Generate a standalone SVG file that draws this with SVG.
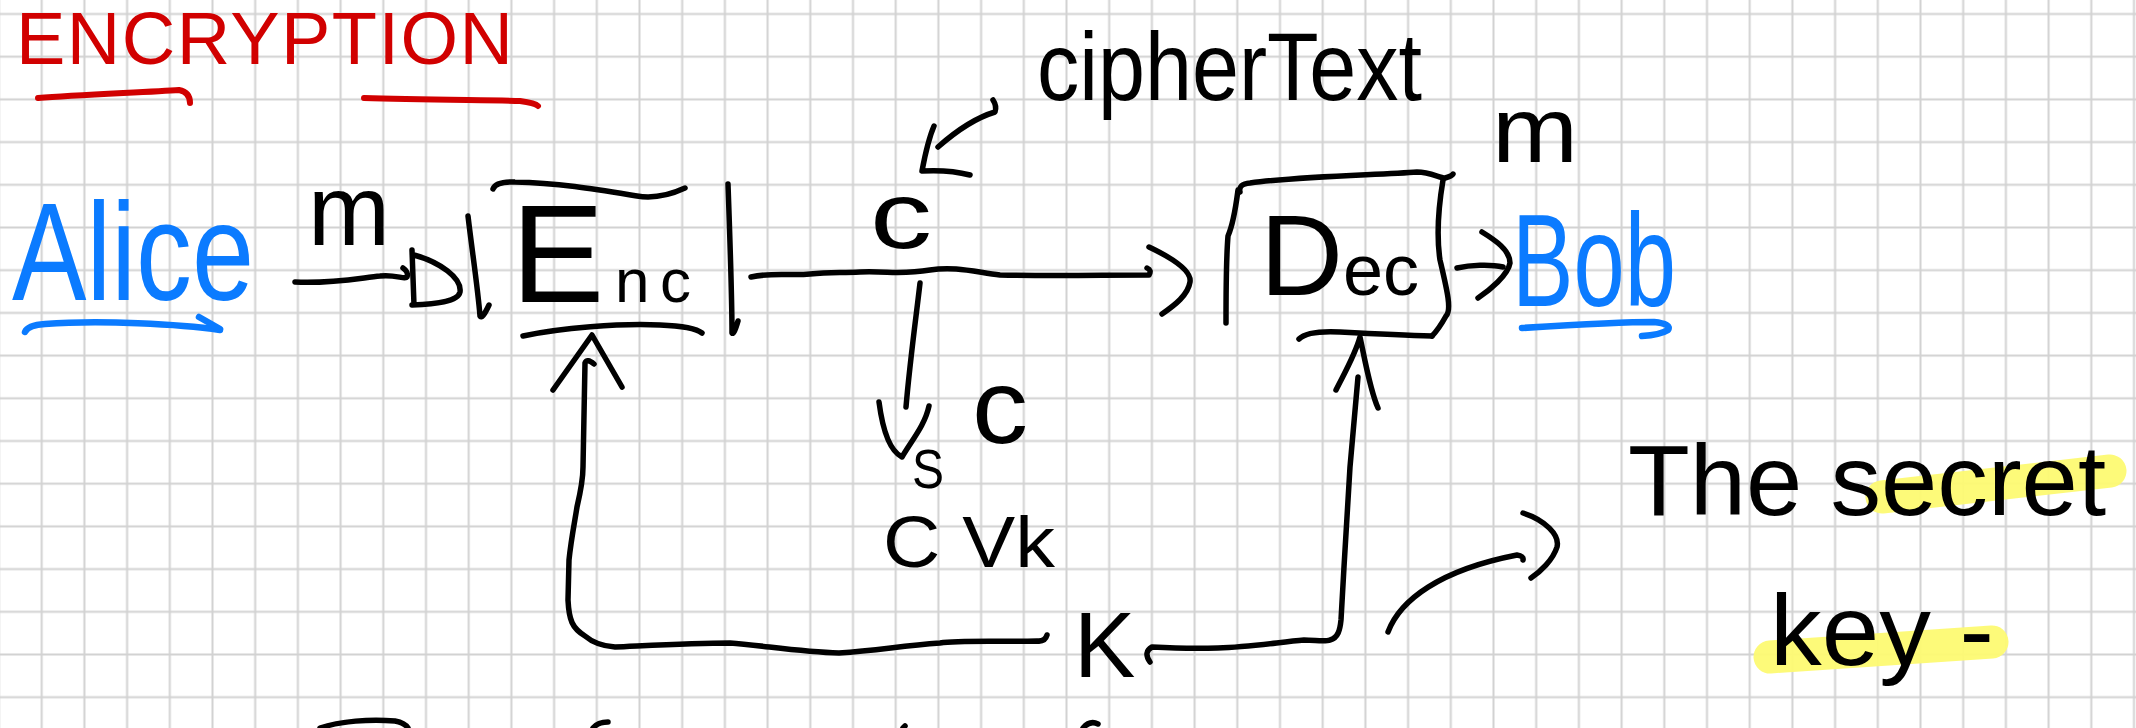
<svg xmlns="http://www.w3.org/2000/svg" width="2136" height="728" viewBox="0 0 2136 728">
<style>
.ink{fill:none;stroke:#000;stroke-width:5.5;stroke-linecap:round;stroke-linejoin:round}
.red{fill:none;stroke:#d10000;stroke-width:6;stroke-linecap:round;stroke-linejoin:round}
.blue{fill:none;stroke:#0b7bff;stroke-width:6.5;stroke-linecap:round;stroke-linejoin:round}
.hl{fill:none;stroke:#fdfa72;stroke-width:33;stroke-linecap:round;opacity:0.95}
text{font-family:"Liberation Sans",Arial,sans-serif;fill:#000}
.tr{fill:#d10000}
.tb{fill:#0b7bff}
</style>
<defs>
<pattern id="grid" patternUnits="userSpaceOnUse" x="20.35" y="-7.35" width="42.7" height="42.7">
<path d="M21.35 0V42.7M0 21.35H42.7" stroke="#d2d2d2" stroke-width="2" fill="none"/>
</pattern>
</defs>
<rect width="2136" height="728" fill="#fff"/>
<rect width="2136" height="728" fill="url(#grid)"/>

<g id="title">
<text class="tr" x="16" y="64" font-size="74" textLength="497" lengthAdjust="spacing">ENCRYPTION</text>
<path class="red" d="M38 98 C80 95 150 92 179 90 Q190 92 190 103"/>
<path class="red" d="M364 98 C420 100 500 100 520 101 Q535 103 538 106"/>
</g>

<g id="alice">
<text class="tb" x="12" y="300" font-size="140" textLength="242" lengthAdjust="spacingAndGlyphs">Alice</text>
<path class="blue" d="M25 332 Q28 325 45 324 C100 320 180 324 220 330"/>
<path class="blue" d="M199 317 L220 329"/>
</g>

<g id="enc">
<path class="ink" d="M493 189 Q496 181 515 182 C560 183 600 190 637 196 C655 199 672 194 685 188"/>
<path class="ink" d="M468 216 C472 250 478 290 480 316 Q482 320 489 305"/>
<path class="ink" d="M728 184 C730 240 732 300 732 333 Q734 335 738 321"/>
<path class="ink" d="M523 336 C560 328 620 323 660 325 C685 326 697 329 702 333"/>
<text x="511" y="302" textLength="180" lengthAdjust="spacing"><tspan font-size="140">E</tspan><tspan font-size="62">nc</tspan></text>
</g>

<g id="dec">
<path class="ink" d="M1238 190 C1236 205 1234 222 1228 236 C1226 260 1226 290 1226 323"/>
<path class="ink" d="M1240 192 Q1238 184 1250 183 C1300 176 1380 175 1417 172 C1430 172 1440 178 1445 178 Q1452 176 1453 174"/>
<path class="ink" d="M1443 180 C1438 210 1437 240 1440 260 C1447 290 1452 310 1446 316 C1441 325 1436 332 1432 336"/>
<path class="ink" d="M1432 336 C1400 335 1360 333 1340 332 C1320 331 1305 333 1299 339"/>
<text x="1260" y="295"><tspan font-size="115">D</tspan><tspan font-size="72">ec</tspan></text>
</g>

<g id="bob">
<text class="tb" x="1512" y="306" font-size="132" textLength="164" lengthAdjust="spacingAndGlyphs">Bob</text>
<path class="blue" d="M1522 328 C1570 325 1630 322 1654 322 Q1672 324 1668 330 Q1660 335 1642 336"/>
</g>

<g id="key">
<text x="1074" y="677" font-size="92">K</text>
</g>

<g id="cipher-note">
<text x="1037" y="100" font-size="96" textLength="385" lengthAdjust="spacingAndGlyphs">cipherText</text>
</g>

<g id="secret-key-note">
<path class="hl" d="M1882 497 L2110 471"/>
<path class="hl" d="M1770 657 L1992 642"/>
<text x="1628" y="515" font-size="100" textLength="478" lengthAdjust="spacingAndGlyphs">The secret</text>
<text x="1770" y="665" font-size="100" textLength="224" lengthAdjust="spacingAndGlyphs">key -</text>
</g>

<g id="labels">
<text x="308" y="245" font-size="100" textLength="82" lengthAdjust="spacingAndGlyphs">m</text>
<text x="870" y="248" font-size="95" textLength="62" lengthAdjust="spacingAndGlyphs">c</text>
<text x="1492" y="162" font-size="92" textLength="86" lengthAdjust="spacingAndGlyphs">m</text>
<text x="972" y="443" font-size="106" textLength="56" lengthAdjust="spacingAndGlyphs">c</text>
<text x="912" y="488" font-size="56" textLength="32" lengthAdjust="spacingAndGlyphs">S</text>
<text x="883" y="567" font-size="72" textLength="172" lengthAdjust="spacingAndGlyphs">C Vk</text>
</g>

<g id="connectors">
<path class="ink" d="M295 282 C330 284 360 278 380 276 C395 274 405 280 407 277 Q409 272 403 268"/>
<path class="ink" d="M412 250 L414 305 M414 255 C440 262 462 278 460 292 C458 302 435 304 412 305"/>
<path class="ink" d="M751 277 C775 272 790 276 810 274 C830 272 840 273 860 272 C890 271 900 275 930 270 C955 266 975 272 1000 275 C1060 276 1100 275 1149 275 Q1152 270 1147 268"/>
<path class="ink" d="M1149 247 C1170 257 1192 270 1190 282 C1188 295 1175 305 1162 314"/>
<path class="ink" d="M1457 268 C1470 265 1490 264 1503 267"/>
<path class="ink" d="M1482 232 C1495 240 1510 250 1510 263 C1508 275 1490 290 1478 298"/>
<path class="ink" d="M920 283 C917 310 910 360 906 407"/>
<path class="ink" d="M879 402 C882 425 888 450 902 457 C912 440 925 425 929 406"/>
<path class="ink" d="M993 100 Q997 106 995 112 C975 118 955 132 938 147"/>
<path class="ink" d="M934 126 C928 140 925 155 922 171 C940 170 955 171 970 175"/>
<path class="ink" d="M1047 635 Q1045 642 1037 641 C1000 642 960 640 940 643 C900 646 880 650 839 653 C800 652 760 645 730 643 C690 643 640 646 615 647 C600 646 592 642 585 636 C572 628 569 620 568 600 L569 560 C571 540 575 520 577 507 C581 490 583 480 583 467 L585 363 Q587 358 594 364"/>
<path class="ink" d="M553 390 L592 335 L622 387"/>
<path class="ink" d="M1150 662 Q1143 652 1152 647 C1170 648 1190 649 1218 648 C1250 647 1280 642 1304 640 C1315 640 1325 642 1330 640 C1338 638 1340 630 1341 620 L1344 567 L1350 467 L1358 377"/>
<path class="ink" d="M1336 390 C1345 372 1355 355 1360 337 C1365 360 1370 390 1378 408"/>
<path class="ink" d="M1388 632 C1400 600 1440 570 1517 555 Q1524 556 1523 560"/>
<path class="ink" d="M1523 513 C1545 520 1560 535 1557 547 C1553 560 1540 572 1531 578"/>
</g>

<g id="fragments">
<path class="ink" d="M320 728 C340 721 370 719 395 721 Q405 723 408 728"/>
<path class="ink" d="M593 728 Q598 722 608 722"/>
<path class="ink" d="M903 728 L905 726"/>
<path class="ink" d="M1083 728 Q1090 720 1098 724"/>
</g>
</svg>
